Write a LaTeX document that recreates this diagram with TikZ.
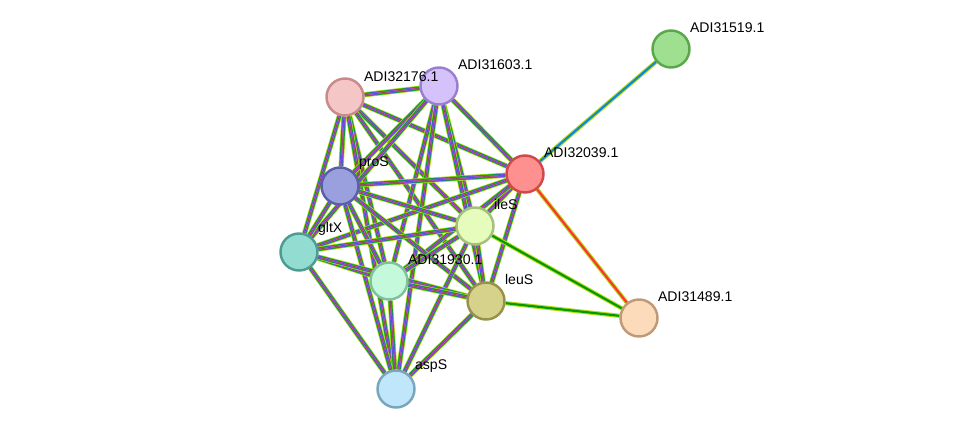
\documentclass[tikz,border=0pt]{standalone}
\usepackage{fontspec}
\setmainfont{Liberation Sans}
\usetikzlibrary{backgrounds}
\begin{document}
\begin{tikzpicture}[x=0.02cm,y=-0.02cm]
\tikzset{
  prot/.style={circle, draw, line width=1.4pt, minimum size=0.74cm, inner sep=0pt},
  lbl/.style={font=\fontsize{8}{9}\selectfont, inner sep=1pt, anchor=south west},
  bundle/.style={draw=yellow!70!green, line width=3pt,
    postaction={draw=green!70!black, line width=2.2pt},
    postaction={draw=blue!70, line width=1.5pt},
    postaction={draw=magenta!70, line width=0.8pt},
    postaction={draw=black!70, line width=0.25pt}},
  pair/.style={draw=yellow!70!green, line width=2.4pt,
    postaction={draw=#1, line width=1.2pt}}
}
\useasboundingbox (0,0) rectangle (976,435);

\node[prot, fill={rgb,255:red,245;green,198;blue,198}, draw={rgb,255:red,200;green,138;blue,138}] (p32176) at (345,97) {};
\node[prot, fill={rgb,255:red,213;green,194;blue,251}, draw={rgb,255:red,154;green,127;blue,207}] (p31603) at (439,86) {};
\node[prot, fill={rgb,255:red,159;green,224;blue,144}, draw={rgb,255:red,92;green,166;blue,76}] (p31519) at (671,49) {};
\node[prot, fill={rgb,255:red,255;green,144;blue,144}, draw={rgb,255:red,208;green,72;blue,72}] (p32039) at (525,174) {};
\node[prot, fill={rgb,255:red,154;green,160;blue,222}, draw={rgb,255:red,90;green,96;blue,168}] (proS) at (340,186) {};
\node[prot, fill={rgb,255:red,229;green,252;blue,189}, draw={rgb,255:red,165;green,192;blue,122}] (ileS) at (475,226) {};
\node[prot, fill={rgb,255:red,147;green,220;blue,210}, draw={rgb,255:red,76;green,156;blue,146}] (gltX) at (299,252) {};
\node[prot, fill={rgb,255:red,196;green,250;blue,219}, draw={rgb,255:red,128;green,192;blue,154}] (p31930) at (389,281) {};
\node[prot, fill={rgb,255:red,214;green,210;blue,140}, draw={rgb,255:red,150;green,146;blue,76}] (leuS) at (486,301) {};
\node[prot, fill={rgb,255:red,252;green,219;blue,187}, draw={rgb,255:red,192;green,154;blue,120}] (p31489) at (639,318) {};
\node[prot, fill={rgb,255:red,192;green,230;blue,251}, draw={rgb,255:red,122;green,166;blue,188}] (aspS) at (396,389) {};

% edges
\begin{pgfonlayer}{background}
\foreach \a/\b in {p32176/p31603,p32176/p32039,p32176/proS,p32176/ileS,p32176/gltX,p32176/p31930,p32176/leuS,p32176/aspS,
  p31603/p32039,p31603/proS,p31603/ileS,p31603/gltX,p31603/p31930,p31603/leuS,p31603/aspS,
  p32039/proS,p32039/ileS,p32039/gltX,p32039/p31930,p32039/leuS,
  proS/ileS,proS/gltX,proS/p31930,proS/leuS,proS/aspS,
  ileS/gltX,ileS/p31930,ileS/leuS,ileS/aspS,
  gltX/p31930,gltX/leuS,gltX/aspS,
  p31930/leuS,p31930/aspS,leuS/aspS}
  \path[bundle] (\a) -- (\b);
\path[pair=cyan!70!blue] (p31519) -- (p32039);
\path[pair=red!80] (p31489) -- (p32039);
\path[pair=green!60!black] (p31489) -- (ileS);
\path[pair=green!60!black] (p31489) -- (leuS);
\end{pgfonlayer}

\node[lbl] (l32176) at (362,84) {ADI32176.1};
\node[lbl] (l31603) at (456,72) {ADI31603.1};
\node[lbl] (l31519) at (688,35) {ADI31519.1};
\node[lbl] (l32039) at (542,160) {ADI32039.1};
\node[lbl] (lproS) at (357,172) {proS};
\node[lbl] (lileS) at (492,212) {ileS};
\node[lbl] (lgltX) at (316,238) {gltX};
\node[lbl] (l31930) at (406,267) {ADI31930.1};
\node[lbl] (lleuS) at (503,287) {leuS};
\node[lbl] (l31489) at (656,304) {ADI31489.1};
\node[lbl] (laspS) at (413,375) {aspS};
\end{tikzpicture}
\end{document}
